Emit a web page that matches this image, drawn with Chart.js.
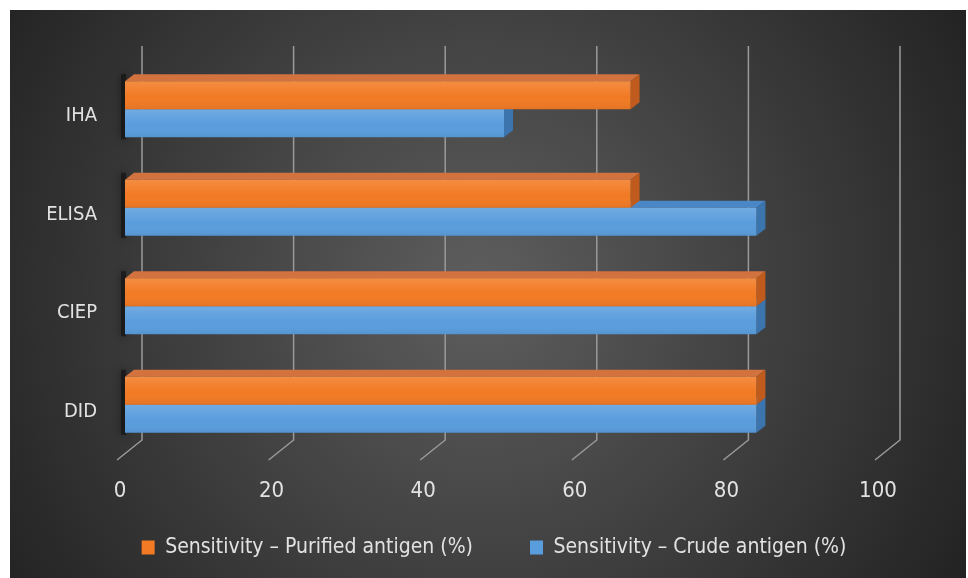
<!DOCTYPE html>
<html>
<head>
<meta charset="utf-8">
<script src="https://cdn.jsdelivr.net/npm/chart.js@4.4.1/dist/chart.umd.min.js"></script>
<style>
  body { margin: 0; background: #fff; }
</style>
</head>
<body>
<canvas id="sensChart" width="968" height="578"></canvas>
<script>
var methods = ['IHA', 'ELISA', 'CIEP', 'DID']
var purified = [66.7, 66.7, 83.3, 83.3]
var crude = [50, 83.3, 83.3, 83.3]
var xTicks = [0, 20, 40, 60, 80, 100]

var fontFamily = "'Liberation Sans Narrow', 'DejaVu Sans Condensed', sans-serif"
var textColor = '#e2e2e2'
var depthX = 9
var depthY = 7

// colours of the top and right faces for each dataset
var faces = [
  { top: '#d2723f', side: '#bf5b1c' },
  { top: '#4a87c6', side: '#3c74ad' }
]

var backdrop = {
  id: 'backdrop',
  beforeDraw: function (chart) {
    var c = chart.ctx
    c.save()
    c.fillStyle = '#ffffff'
    c.fillRect(0, 0, chart.width, chart.height)
    var g = c.createRadialGradient(480, 290, 20, 480, 290, 560)
    g.addColorStop(0, '#5c5c5c')
    g.addColorStop(1, '#232323')
    c.fillStyle = g
    c.fillRect(10, 10, chart.width - 12, chart.height - 10)
    c.restore()
  }
}

// back wall gridlines + floor diagonals, then the 3d faces of the bars
var depthFaces = {
  id: 'depthFaces',
  beforeDatasetsDraw: function (chart) {
    var c = chart.ctx
    var xs = chart.scales.x
    var area = chart.chartArea
    c.save()
    c.strokeStyle = '#9a9a9a'
    c.lineWidth = 1.5
    xTicks.forEach(function (v) {
      var px = xs.getPixelForValue(v)
      c.beginPath()
      c.moveTo(px + 17, area.top - 14)
      c.lineTo(px + 17, area.bottom - 14)
      c.lineTo(px - 8, area.bottom + 6)
      c.stroke()
    })

    // soft shadow on the left wall for each group
    var top0 = chart.getDatasetMeta(0).data
    var bot1 = chart.getDatasetMeta(1).data
    top0.forEach(function (bar, i) {
      var a = bar.getProps(['y', 'base', 'height'], true)
      var b = bot1[i].getProps(['y', 'height'], true)
      var t = a.y - a.height / 2 - depthY
      c.save()
      c.shadowColor = 'rgba(0,0,0,0.8)'
      c.shadowBlur = 8
      c.fillStyle = 'rgba(12,12,12,0.55)'
      c.fillRect(a.base - 4, t, 5, b.y + b.height / 2 - t + 2)
      c.restore()
    })

    ;[1, 0].forEach(function (di) {
      chart.getDatasetMeta(di).data.forEach(function (bar) {
        var p = bar.getProps(['x', 'y', 'base', 'height'], true)
        var top = p.y - p.height / 2
        var bot = p.y + p.height / 2
        c.fillStyle = faces[di].top
        c.beginPath()
        c.moveTo(p.base, top)
        c.lineTo(p.base + depthX, top - depthY)
        c.lineTo(p.x + depthX, top - depthY)
        c.lineTo(p.x, top)
        c.closePath()
        c.fill()
        c.fillStyle = faces[di].side
        c.beginPath()
        c.moveTo(p.x, top)
        c.lineTo(p.x + depthX, top - depthY)
        c.lineTo(p.x + depthX, bot - depthY)
        c.lineTo(p.x, bot)
        c.closePath()
        c.fill()
      })
    })
    c.restore()
  },
  afterDatasetsDraw: function (chart) {
    var c = chart.ctx
    c.save()
    ;[0, 1].forEach(function (di) {
      chart.getDatasetMeta(di).data.forEach(function (bar) {
        var p = bar.getProps(['x', 'y', 'base', 'height'], true)
        var top = p.y - p.height / 2
        var g = c.createLinearGradient(0, top, 0, top + p.height)
        g.addColorStop(0, 'rgba(255,255,255,0.14)')
        g.addColorStop(0.55, 'rgba(255,255,255,0)')
        g.addColorStop(1, 'rgba(0,0,0,0.06)')
        c.fillStyle = g
        c.fillRect(p.base, top, p.x - p.base, p.height)
      })
    })
    c.restore()
  }
}

var sensCanvas = document.getElementById('sensChart')

var sensChart = new Chart(sensCanvas, {
  type: 'bar',
  data: {
    labels: methods,
    datasets: [
      { label: 'Sensitivity \u2013 Purified antigen (%)', data: purified, backgroundColor: '#f27a24' },
      { label: 'Sensitivity \u2013 Crude antigen (%)', data: crude, backgroundColor: '#5a9ddd' }
    ]
  },
  options: {
    indexAxis: 'y',
    responsive: false,
    animation: false,
    events: [],
    layout: { padding: { left: 30, right: 10, top: 60, bottom: 10 } },
    datasets: { bar: { barPercentage: 1, categoryPercentage: 0.57 } },
    scales: {
      x: {
        min: 0,
        max: 100,
        grid: { display: false },
        border: { display: false },
        ticks: { stepSize: 20, mirror: true, padding: -50, labelOffset: -5, color: textColor, font: { family: fontFamily, size: 22 } },
        afterFit: function (s) { s.height = 26 }
      },
      y: {
        grid: { display: false },
        border: { display: false },
        ticks: { padding: 20, labelOffset: 7, color: textColor, font: { family: fontFamily, size: 20 } },
        afterFit: function (s) { s.width = 95 }
      },
      // empty right axis, only keeps room on the right of the plot
      yRight: {
        type: 'category',
        position: 'right',
        grid: { display: false },
        border: { display: false },
        ticks: { display: false },
        afterFit: function (s) { s.width = 75 }
      }
    },
    plugins: {
      legend: {
        position: 'bottom',
        maxHeight: 99,
        labels: { padding: 57, boxWidth: 13, boxHeight: 14, color: textColor, font: { family: fontFamily, size: 21 } }
      },
      tooltip: { enabled: false }
    }
  },
  plugins: [backdrop, depthFaces]
})
</script>
</body>
</html>
